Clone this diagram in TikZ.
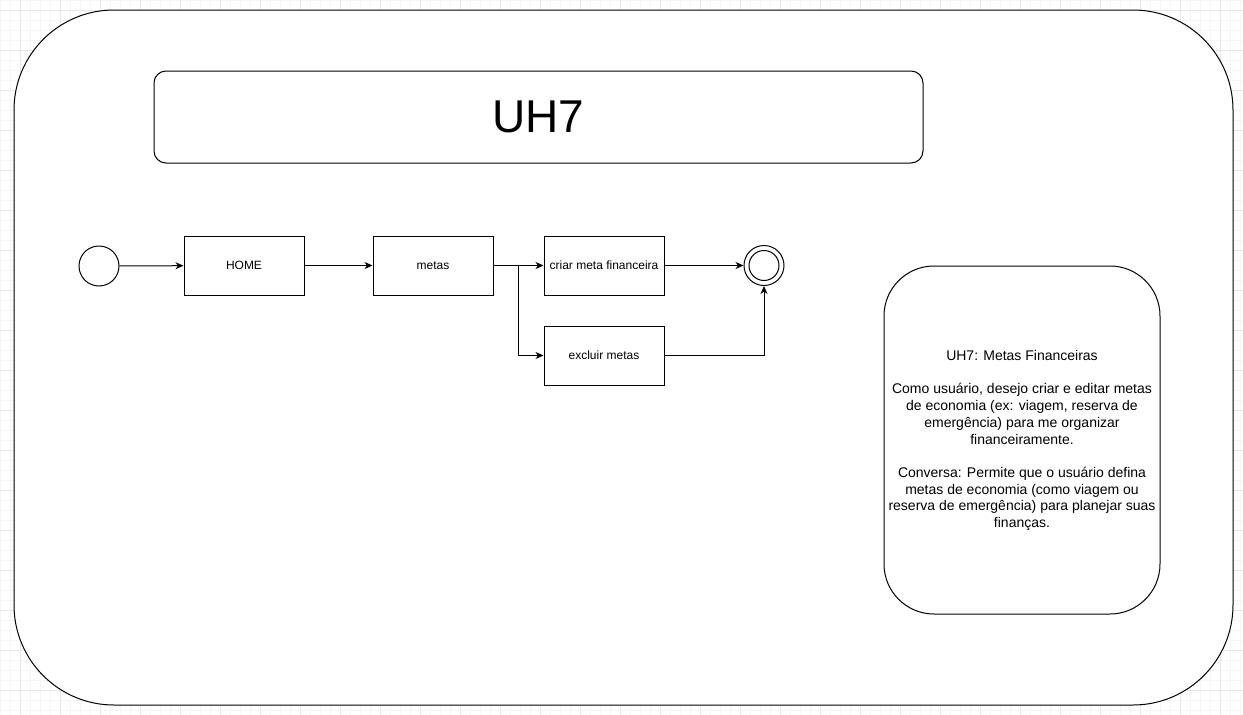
\documentclass[tikz,border=0pt]{standalone}
\usepackage{fontspec}
\setmainfont{Liberation Sans}
\usetikzlibrary{arrows.meta}
\begin{document}
\begin{tikzpicture}[x=1pt,y=-1pt,
  box/.style={draw=black,line width=1pt,fill=white,minimum width=120pt,minimum height=59pt,inner sep=0pt,font=\fontsize{12}{14}\selectfont},
  flow/.style={draw=black,line width=1pt,-{Stealth[length=8pt,width=7pt,inset=2.5pt]}},
  minorgrid/.style={draw=black!4,line width=0.6pt},
  majorgrid/.style={draw=black!9,line width=0.6pt}]
\useasboundingbox (0,0) rectangle (1243,715);
\fill[white] (0,0) rectangle (1243,715);
% background grid
\foreach \gx in {0,10,...,1240} \draw[minorgrid] (\gx,0) -- (\gx,715);
\foreach \gy in {0,10,...,710} \draw[minorgrid] (0,\gy) -- (1243,\gy);
\foreach \gx in {20,60,...,1220} \draw[majorgrid] (\gx,0) -- (\gx,715);
\foreach \gy in {10,50,...,690} \draw[majorgrid] (0,\gy) -- (1243,\gy);
% outer frame
\draw[line width=1pt,fill=white,rounded corners=100pt] (14,10) rectangle (1233,705);
% title
\draw[line width=1pt,fill=white,rounded corners=12pt] (154,71) rectangle (923,163);
\node[font=\fontsize{46}{50}\selectfont] (title) at (538.5,117) {UH7};
% flow
\node[draw,circle,line width=1pt,minimum size=40pt,inner sep=0pt] (start) at (99,266) {};
\node[box] (home) at (244,265.5) {HOME};
\node[box] (metas) at (433,265.5) {metas};
\node[box] (criar) at (604,265.5) {criar meta financeira};
\node[box] (excluir) at (604,355.5) {excluir metas};
\node[draw,circle,line width=1pt,minimum size=40pt,inner sep=0pt] (end) at (764,265.5) {};
\node[draw,circle,line width=1pt,minimum size=30pt,inner sep=0pt] (endin) at (764,265.5) {};
\coordinate (split) at (518,265.5);
\draw[flow] (start) -- (home);
\draw[flow] (home) -- (metas);
\draw[flow] (metas) -- (criar);
\draw[flow] (split) |- (excluir);
\draw[flow] (criar) -- (end);
\draw[flow] (excluir.east) -| (end.south);
% story card
\draw[line width=1pt,fill=white,rounded corners=50pt] (884,266) rectangle (1160,614);
\node[align=center,font=\fontsize{14}{16.7}\selectfont] (card) at (1022,440.5) {UH7: Metas Financeiras\\[16.7pt]
Como usuário, desejo criar e editar metas\\ de economia (ex: viagem, reserva de\\ emergência) para me organizar\\ financeiramente.\\[16.7pt]
Conversa: Permite que o usuário defina\\ metas de economia (como viagem ou\\ reserva de emergência) para planejar suas\\ finanças.};
\end{tikzpicture}
\end{document}
